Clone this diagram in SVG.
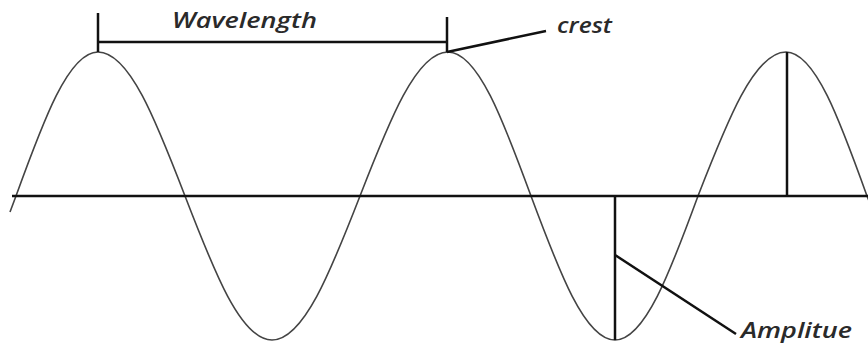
<svg xmlns="http://www.w3.org/2000/svg" width="868" height="345" viewBox="0 0 868 345">
<style>
.line{stroke:#111;stroke-width:2.5;fill:none;stroke-linecap:butt}
.wave{stroke:#444;stroke-width:1.6;fill:none}
.lbl{font-family:"Open Sans","Liberation Sans",sans-serif;font-style:italic;font-weight:600;fill:#2a2a2a}
</style>
<rect width="868" height="345" fill="#fff"/>
<g id="wave">
<path class="wave" d="M10,212 L16,196 C43.4,120.4 68.6,52 98,52 C129.2,52 155.9,120.4 185,196 C214.1,271.6 240.8,340 272,340 C303.5,340 330.6,271.6 360,196 C389.4,120.4 416.5,52 448,52 C477.7,52 503.3,120.4 531,196 C559.1,271.6 584.9,340 615,340 C644.7,340 670.3,271.6 698,196 C727.4,120.4 754.5,52 786,52 C815,52 839.9,120.4 867,196 L872,208"/>
</g>
<g id="axis">
<line class="line" x1="12" y1="196" x2="868" y2="196" stroke-width="3"/>
</g>
<g id="connectors">
<line class="line" x1="98" y1="13" x2="98" y2="52"/>
<line class="line" x1="447" y1="17" x2="447" y2="52"/>
<line class="line" x1="98" y1="42" x2="447" y2="42"/>
<line class="line" x1="447" y1="52" x2="546" y2="31"/>
<line class="line" x1="787" y1="52" x2="787" y2="196"/>
<line class="line" x1="615" y1="196" x2="615" y2="340"/>
<line class="line" x1="615" y1="255" x2="736" y2="334"/>
</g>
<g id="wavelength">
<text class="lbl" x="172" y="28" font-size="22" textLength="145" lengthAdjust="spacingAndGlyphs">Wavelength</text>
</g>
<g id="crest">
<text class="lbl" x="557" y="33" font-size="21" textLength="55" lengthAdjust="spacingAndGlyphs">crest</text>
</g>
<g id="amplitude">
<text class="lbl" x="741" y="338" font-size="22" textLength="111" lengthAdjust="spacingAndGlyphs">Amplitue</text>
</g>
</svg>
